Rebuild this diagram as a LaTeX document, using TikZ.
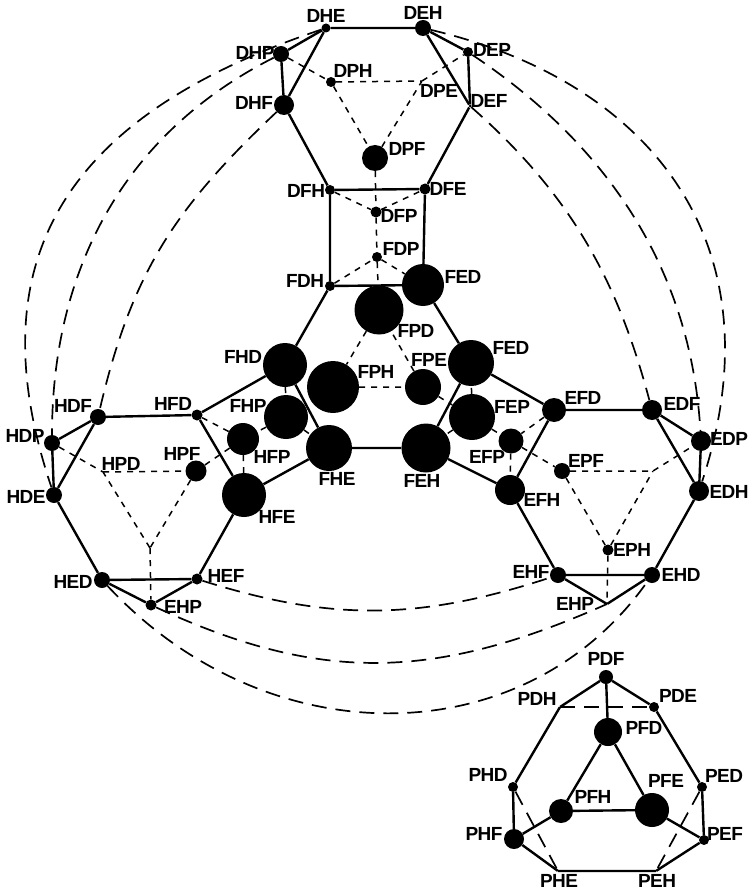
\documentclass[tikz,border=0pt]{standalone}
\usepackage{fontspec}
\setmainfont[LetterSpace=-3]{Liberation Sans}
\tikzset{
    spot/.style={circle, fill=black, inner sep=0pt},
    corner/.style={inner sep=0pt, minimum size=0pt},
    lab/.style={inner sep=0pt, font=\fontsize{19}{19}\selectfont\bfseries},
    edge/.style={line width=2.4pt},
    hidden/.style={line width=1.5pt, dash pattern=on 6pt off 6pt},
    far/.style={line width=1.7pt, dash pattern=on 15pt off 9pt}
}

\begin{document}
\begin{tikzpicture}[x=1pt, y=-1pt]
    \useasboundingbox (0,0) rectangle (747,893);

    % top hexagon
    \node[spot, minimum size=9pt] (DHE) at (326,28) {};
    \node[spot, minimum size=16pt] (DEH) at (423,28) {};
    \node[spot, minimum size=10pt] (DEP) at (468,52) {};
    \node[spot, minimum size=16pt] (DHP) at (281,54) {};
    \node[spot, minimum size=20pt] (DHF) at (284,105) {};
    \node[spot, minimum size=3pt] (DEF) at (470,106) {};
    \node[spot, minimum size=10pt] (DPH) at (331,82) {};
    \node[corner] (DPE) at (422,81) {};
    \node[spot, minimum size=26pt] (DPF) at (375,158) {};
    \node[spot, minimum size=10pt] (DFH) at (330,190) {};
    \node[spot, minimum size=11pt] (DFE) at (425,189) {};
    \node[spot, minimum size=11pt] (DFP) at (376,212) {};
    \node[spot, minimum size=10pt] (FDP) at (377,257) {};
    \node[spot, minimum size=10pt] (FDH) at (330,286) {};

    % centre hexagon
    \node[spot, minimum size=42pt] (FEDa) at (423,285) {};
    \node[spot, minimum size=49pt] (FPD) at (379,310) {};
    \node[spot, minimum size=44pt] (FHD) at (285,365) {};
    \node[spot, minimum size=52pt] (FPH) at (333,387) {};
    \node[spot, minimum size=36pt] (FPE) at (423,387) {};
    \node[spot, minimum size=46pt] (FEDb) at (471,363) {};
    \node[spot, minimum size=44pt] (FHP) at (286,417) {};
    \node[spot, minimum size=46pt] (FEP) at (472,417) {};
    \node[spot, minimum size=46pt] (FHE) at (329,448) {};
    \node[spot, minimum size=49pt] (FEH) at (426,448) {};

    % left hexagon
    \node[spot, minimum size=32pt] (HFP) at (243,439) {};
    \node[spot, minimum size=44pt] (HFE) at (244,495) {};
    \node[spot, minimum size=11pt] (HFD) at (197,415) {};
    \node[spot, minimum size=16pt] (HDF) at (98,417) {};
    \node[spot, minimum size=16pt] (HDP) at (52,443) {};
    \node[spot, minimum size=16pt] (HDE) at (54,495) {};
    \node[corner] (HPD) at (103,472) {};
    \node[spot, minimum size=21pt] (HPF) at (196,471) {};
    \node[corner] (HPE) at (150,548) {};
    \node[spot, minimum size=16pt] (HED) at (102,580) {};
    \node[spot, minimum size=11pt] (HEF) at (197,579) {};
    \node[spot, minimum size=11pt] (HEP) at (151,605) {};

    % right hexagon
    \node[spot, minimum size=25pt] (EFP) at (511,441) {};
    \node[spot, minimum size=24pt] (EFD) at (554,410) {};
    \node[spot, minimum size=20pt] (EDF) at (652,410) {};
    \node[spot, minimum size=20pt] (EDP) at (701,441) {};
    \node[spot, minimum size=20pt] (EDH) at (699,491) {};
    \node[spot, minimum size=16pt] (EPF) at (562,471) {};
    \node[corner] (EPD) at (653,471) {};
    \node[spot, minimum size=30pt] (EFH) at (510,490) {};
    \node[spot, minimum size=11pt] (EPH) at (608,550) {};
    \node[spot, minimum size=16pt] (EHF) at (558,575) {};
    \node[spot, minimum size=16pt] (EHD) at (652,575) {};
    \node[corner] (EHP) at (607,604) {};

    % small figure
    \node[spot, minimum size=14pt] (PDF) at (606,677) {};
    \node[spot, minimum size=10pt] (PDE) at (654,707) {};
    \node[corner] (PDH) at (560,707) {};
    \node[spot, minimum size=28pt] (PFD) at (608,732) {};
    \node[spot, minimum size=10pt] (PHD) at (513,787) {};
    \node[spot, minimum size=10pt] (PED) at (702,787) {};
    \node[spot, minimum size=24pt] (PFH) at (561,811) {};
    \node[spot, minimum size=34pt] (PFE) at (652,810) {};
    \node[spot, minimum size=20pt] (PHF) at (514,839) {};
    \node[spot, minimum size=10pt] (PEF) at (704,840) {};
    \node[corner] (PHE) at (558,871) {};
    \node[corner] (PEH) at (656,871) {};

    % solid edges
    \draw[edge] (DHE) -- (DEH) -- (DEF) -- (DFE) -- (DFH) -- (DHF) -- (DHE) -- (DHP) -- (DHF);
    \draw[edge] (DEH) -- (DEP) -- (DEF);
    \draw[edge] (DFH) -- (FDH) -- (FEDa) -- (DFE);
    \draw[edge] (FDH) -- (FHD) -- (FHE) -- (FEH) -- (FEDb) -- (FEDa);
    \draw[edge] (FHD) -- (HFD) -- (HDF) -- (HDP) -- (HDE) -- (HDF);
    \draw[edge] (HFD) -- (HFE) -- (FHE);
    \draw[edge] (HDE) -- (HED) -- (HEF) -- (HFE);
    \draw[edge] (HED) -- (HEP) -- (HEF);
    \draw[edge] (FEDb) -- (EFD) -- (EDF) -- (EDP) -- (EDH) -- (EDF);
    \draw[edge] (EFD) -- (EFH) -- (FEH);
    \draw[edge] (EFH) -- (EHF) -- (EHD) -- (EDH);
    \draw[edge] (EHF) -- (EHP) -- (EHD);
    \draw[edge] (PDH) -- (PDF) -- (PDE) -- (PED) -- (PEF) -- (PEH) -- (PHE) -- (PHF) -- (PHD) -- (PDH);
    \draw[edge] (PDF) -- (PFD) -- (PFE) -- (PFH) -- (PFD);
    \draw[edge] (PFH) -- (PHF);
    \draw[edge] (PFE) -- (PEF);

    % hidden edges
    \draw[hidden] (DHP) -- (DPH) -- (DPE) -- (DEP);
    \draw[hidden] (DPH) -- (DPF) -- (DPE);
    \draw[hidden] (DPF) -- (DFP) -- (FDP) -- (FPD);
    \draw[hidden] (DFH) -- (DFP) -- (DFE);
    \draw[hidden] (FDH) -- (FDP) -- (FEDa);
    \draw[hidden] (FPD) -- (FPH) -- (FPE) -- (FPD);
    \draw[hidden] (FPE) -- (FEP) -- (FEDb);
    \draw[hidden] (FEP) -- (FEH);
    \draw[hidden] (FEP) -- (EFP);
    \draw[hidden] (FHD) -- (FHP) -- (FHE);
    \draw[hidden] (FHP) -- (HFP);
    \draw[hidden] (HFD) -- (HFP) -- (HFE);
    \draw[hidden] (HFP) -- (HPF);
    \draw[hidden] (HDP) -- (HPD) -- (HPF) -- (HPE) -- (HPD);
    \draw[hidden] (HPE) -- (HEP);
    \draw[hidden] (EFD) -- (EFP) -- (EFH);
    \draw[hidden] (EFP) -- (EPF) -- (EPD) -- (EDP);
    \draw[hidden] (EPF) -- (EPH) -- (EPD);
    \draw[hidden] (EPH) -- (EHP);

    % long arcs
    \draw[far] (DHE) .. controls (79,111) and (-29,248) .. (HDE);
    \draw[far] (DHP) .. controls (125,133) and (52,268) .. (HDP);
    \draw[far] (DHF) .. controls (175,208) and (132,272) .. (HDF);
    \draw[far] (DEH) .. controls (651,82) and (780,244) .. (EDH);
    \draw[far] (DEP) .. controls (609,146) and (691,271) .. (EDP);
    \draw[far] (DEF) .. controls (571,195) and (617,279) .. (EDF);
    \draw[far] (HED) .. controls (268,758) and (525,755) .. (EHD);
    \draw[far] (HEP) .. controls (318,682) and (432,682) .. (EHP);
    \draw[far] (HEF) .. controls (330,621) and (418,621) .. (EHF);
    \draw[far] (PDH) -- (PDE);
    \draw[far] (PHD) -- (PHE);
    \draw[far] (PED) -- (PEH);

    % labels
    \node[lab] (tDHE) at (326,16) {DHE};
    \node[lab] (tDEH) at (423,13) {DEH};
    \node[lab] (tDHP) at (255,53) {DHP};
    \node[lab] (tDHF) at (254,103) {DHF};
    \node[lab] (tDPH) at (353,71) {DPH};
    \node[lab] (tDPE) at (439,91) {DPE};
    \node[lab] (tDEP) at (492,50) {DEP};
    \node[lab] (tDEF) at (489,101) {DEF};
    \node[lab] (tDPF) at (407,149) {DPF};
    \node[lab] (tDFH) at (306,191) {DFH};
    \node[lab] (tDFE) at (448,189) {DFE};
    \node[lab] (tDFP) at (399,216) {DFP};
    \node[lab] (tFDP) at (401,249) {FDP};
    \node[lab] (tFDH) at (305,281) {FDH};
    \node[lab] (tFEDa) at (463,277) {FED};
    \node[lab] (tFPD) at (416,331) {FPD};
    \node[lab] (tFPH) at (376,372) {FPH};
    \node[lab] (tFPE) at (429,360) {FPE};
    \node[lab] (tFEDb) at (511,348) {FED};
    \node[lab] (tFHD) at (243,357) {FHD};
    \node[lab] (tFHP) at (248,406) {FHP};
    \node[lab] (tFEP) at (512,407) {FEP};
    \node[lab] (tFHE) at (337,479) {FHE};
    \node[lab] (tFEH) at (422,481) {FEH};
    \node[lab] (tHFP) at (272,457) {HFP};
    \node[lab] (tHFE) at (277,517) {HFE};
    \node[lab] (tHFD) at (173,404) {HFD};
    \node[lab] (tHDF) at (73,406) {HDF};
    \node[lab] (tHDP) at (25,436) {HDP};
    \node[lab] (tHDE) at (26,497) {HDE};
    \node[lab] (tHPD) at (121,464) {HPD};
    \node[lab] (tHPF) at (182,454) {HPF};
    \node[lab] (tHED) at (73,582) {HED};
    \node[lab] (tHEF) at (226,576) {HEF};
    \node[lab] (tHEP) at (183,607) {EHP};
    \node[lab] (tEFP) at (487,457) {EFP};
    \node[lab] (tEFD) at (583,398) {EFD};
    \node[lab] (tEDF) at (682,404) {EDF};
    \node[lab] (tEDP) at (729,439) {EDP};
    \node[lab] (tEDH) at (729,492) {EDH};
    \node[lab] (tEFH) at (542,500) {EFH};
    \node[lab] (tEPF) at (586,461) {EPF};
    \node[lab] (tEPH) at (632,550) {EPH};
    \node[lab] (tEHF) at (531,572) {EHF};
    \node[lab] (tEHD) at (681,575) {EHD};
    \node[lab] (tEHP) at (575,604) {EHP};
    \node[lab] (tPDF) at (606,659) {PDF};
    \node[lab] (tPDE) at (678,696) {PDE};
    \node[lab] (tPDH) at (537,699) {PDH};
    \node[lab] (tPFD) at (644,728) {PFD};
    \node[lab] (tPHD) at (488,775) {PHD};
    \node[lab] (tPED) at (724,776) {PED};
    \node[lab] (tPFH) at (593,797) {PFH};
    \node[lab] (tPFE) at (666,781) {PFE};
    \node[lab] (tPHF) at (484,834) {PHF};
    \node[lab] (tPEF) at (725,834) {PEF};
    \node[lab] (tPHE) at (559,881) {PHE};
    \node[lab] (tPEH) at (657,881) {PEH};
\end{tikzpicture}
\end{document}
